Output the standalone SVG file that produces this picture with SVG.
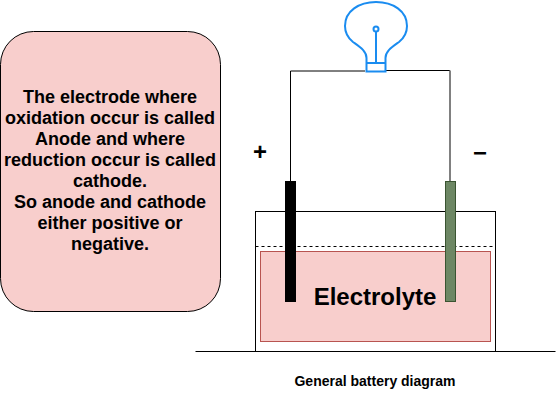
<svg xmlns="http://www.w3.org/2000/svg" width="557" height="404" viewBox="0 0 557 404">
<style>
text{font-family:"Liberation Sans",Arial,sans-serif;font-weight:bold;fill:#000;text-anchor:middle}
.n{font-size:18px}
.bulb{fill:none;stroke:#1a8cf0;stroke-width:2}
</style>
<rect width="557" height="404" fill="#fff"/>
<g id="info-box">
<rect x="0.500" y="31.500" width="220" height="280" rx="33" ry="33" fill="#f8cecc" stroke="#000"/>
<text class="n" x="110" y="103">The electrode where</text>
<text class="n" x="110" y="124">oxidation occur is called</text>
<text class="n" x="110" y="145">Anode and where</text>
<text class="n" x="110" y="166">reduction occur is called</text>
<text class="n" x="110" y="187">cathode.</text>
<text class="n" x="110" y="208">So anode and cathode</text>
<text class="n" x="110" y="229">either positive or</text>
<text class="n" x="110" y="250">negative.</text>
</g>
<g id="container"><rect x="255.500" y="211.500" width="240" height="140" fill="#fff" stroke="#000"/></g>
<g id="electrolyte">
<rect x="260.500" y="251.500" width="230" height="90" fill="#f8cecc" stroke="#b85450"/>
<text x="375" y="305" font-size="24px">Electrolyte</text>
</g>
<g id="connectors" fill="none">
<path d="M255.500 246.500H495.500" stroke="#000" stroke-dasharray="3 3"/>
<path d="M195.500 351.500H555.500" stroke="#000"/>
<path d="M290.500 181V71H365M385 70.500H450" stroke="#000"/>
<path d="M450 70.500V181" stroke="#808080" stroke-width="2"/>
</g>
<g id="anode"><rect x="285.500" y="181.500" width="10" height="120" fill="#000" stroke="#000"/></g>
<g id="cathode"><rect x="445.500" y="181.500" width="10" height="120" fill="#6d8764" stroke="#3a5431"/></g>
<g id="bulb">
<path class="bulb" d="M366.500 63V58C366.500 51 360 47 353 42C348 38 345 32 345 26C345 11 359 2 376 2C393 2 407 11 407 26C407 32 404 38 399 42C392 47 385.500 51 385.500 58V71.500H366.500V63H385.500"/>
<circle class="bulb" cx="376" cy="29" r="2.500"/>
<path class="bulb" d="M376 31.500V63"/>
</g>
<g id="plus"><text x="260" y="160" font-size="24px">+</text></g>
<g id="minus"><text x="480" y="161" font-size="24px">−</text></g>
<g id="caption"><text x="375" y="386" font-size="14px">General battery diagram</text></g>
</svg>
